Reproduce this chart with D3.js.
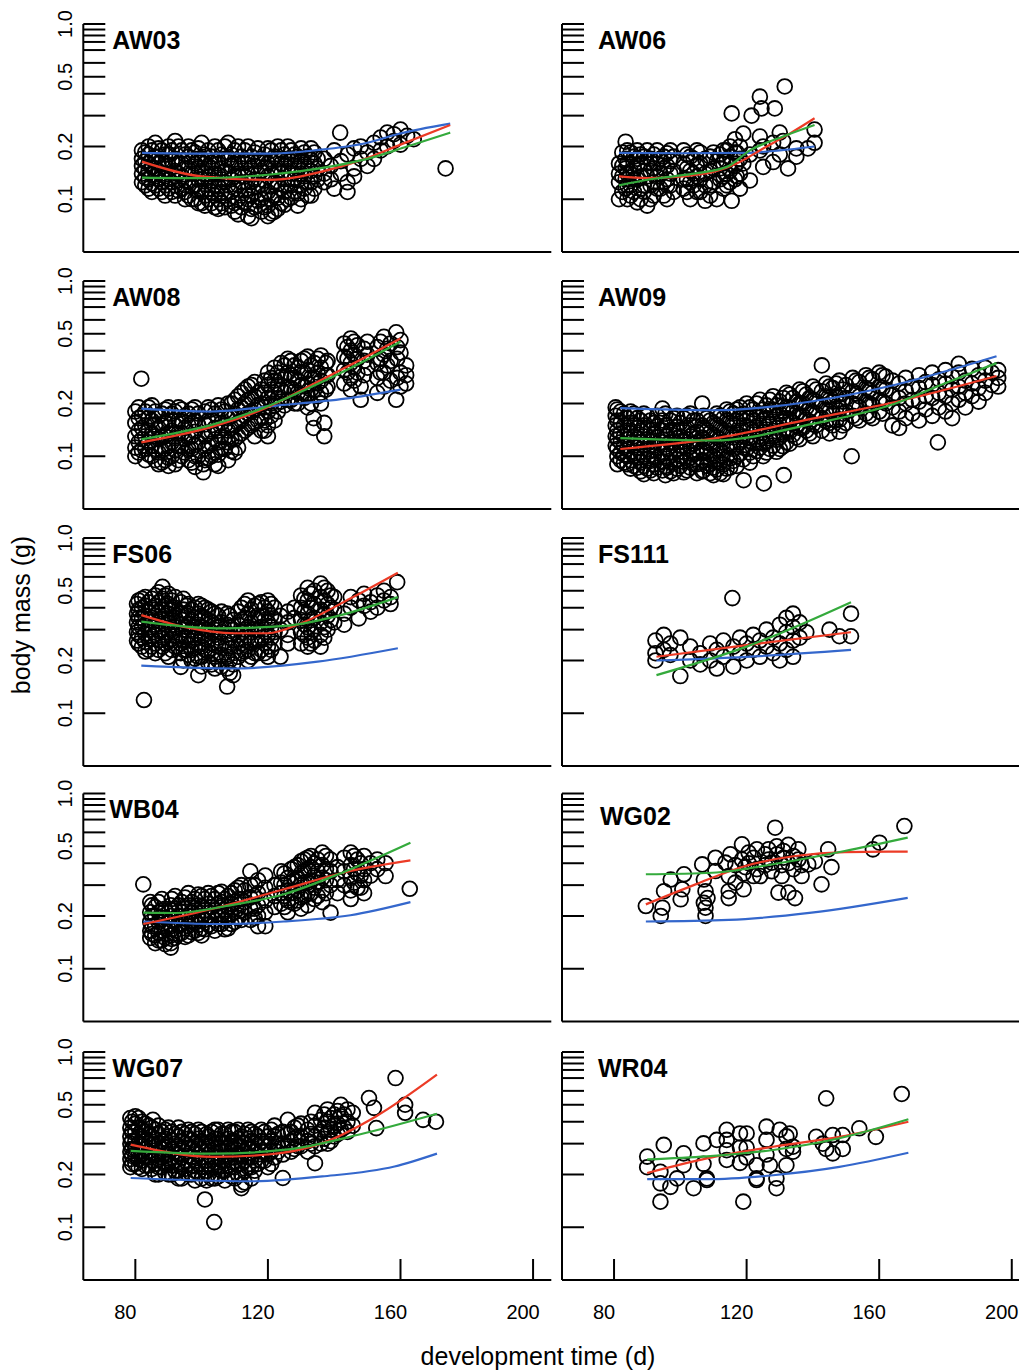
<!DOCTYPE html>
<html>
<head>
<meta charset="utf-8">
<script src="https://cdn.jsdelivr.net/npm/d3@7"></script>
<style>
  body { margin: 0; background: #fff; }
  svg { display: block; font-family: "Liberation Sans", Arial, sans-serif; }
</style>
</head>
<body>
<svg id="chart" width="1019" height="1372"></svg>
<script>
// points are grouped by day: [day, [mass, mass, ...]]
const aw03Pts = [
  [82,[0.19,0.17,0.155,0.14,0.125]],[84,[0.2,0.18,0.16,0.145,0.13,0.115]],[86,[0.21,0.175,0.15,0.135,0.12]],
  [88,[0.19,0.165,0.14,0.125,0.11]],[90,[0.2,0.18,0.155,0.13,0.115]],[92,[0.215,0.17,0.145,0.12,0.105]],
  [94,[0.19,0.16,0.135,0.115]],[96,[0.2,0.175,0.15,0.125,0.105]],[98,[0.185,0.16,0.14,0.12,0.1]],
  [100,[0.21,0.17,0.145,0.13,0.11,0.095]],[102,[0.19,0.155,0.135,0.115,0.1]],[104,[0.2,0.165,0.14,0.12,0.105,0.09]],
  [106,[0.18,0.15,0.13,0.11,0.095]],[108,[0.21,0.17,0.14,0.12,0.1]],[110,[0.19,0.16,0.135,0.115,0.095,0.085]],
  [112,[0.175,0.15,0.125,0.105,0.09]],[114,[0.2,0.165,0.14,0.115,0.1,0.08]],[116,[0.185,0.155,0.13,0.11,0.09]],
  [118,[0.17,0.145,0.12,0.1,0.085]],[120,[0.195,0.16,0.135,0.11,0.092,0.08]],[122,[0.175,0.15,0.125,0.105,0.085]],
  [124,[0.19,0.16,0.14,0.115,0.095]],[126,[0.2,0.17,0.145,0.12,0.1]],[128,[0.18,0.155,0.13,0.11]],
  [130,[0.195,0.165,0.14,0.12,0.1]],[132,[0.175,0.15,0.125,0.105]],[134,[0.185,0.16,0.135,0.115]],
  [83,[0.185,0.165,0.148,0.133,0.12]],[85,[0.19,0.17,0.152,0.138,0.123,0.11]],[87,[0.195,0.16,0.145,0.13,0.115]],
  [89,[0.18,0.16,0.135,0.12,0.105]],[91,[0.19,0.165,0.14,0.125,0.11]],[93,[0.2,0.16,0.14,0.128,0.112]],
  [95,[0.18,0.15,0.128,0.11,0.1]],[97,[0.19,0.165,0.14,0.118,0.1]],[99,[0.195,0.17,0.15,0.13,0.112,0.095]],
  [101,[0.18,0.16,0.14,0.122,0.105,0.092]],[103,[0.175,0.15,0.128,0.11,0.095]],[105,[0.19,0.16,0.138,0.118,0.1,0.088]],
  [107,[0.2,0.17,0.145,0.125,0.105,0.09]],[109,[0.18,0.155,0.13,0.11,0.092]],[111,[0.2,0.165,0.14,0.12,0.1,0.082]],
  [113,[0.19,0.16,0.135,0.112,0.095]],[115,[0.175,0.15,0.125,0.105,0.088,0.078]],[117,[0.195,0.165,0.14,0.118,0.098]],
  [119,[0.18,0.152,0.128,0.106,0.09]],[121,[0.19,0.165,0.14,0.118,0.1,0.083]],[123,[0.2,0.17,0.145,0.122,0.102,0.088]],
  [125,[0.18,0.155,0.13,0.11,0.093]],[127,[0.19,0.165,0.14,0.12,0.102]],[129,[0.175,0.15,0.128,0.108,0.092]],
  [131,[0.185,0.158,0.135,0.115]],[133,[0.195,0.168,0.145,0.125,0.105]],[135,[0.17,0.15,0.13]],
  [137,[0.17,0.14,0.125]],[139,[0.155,0.13]],[140,[0.19,0.115]],[141.8,[0.24]],[142,[0.165,0.14]],
  [144,[0.18,0.125,0.11]],[146,[0.195,0.15,0.135]],[148,[0.17,0.2]],[150,[0.185,0.155]],[152,[0.21,0.17]],
  [154,[0.225,0.19]],[156,[0.2,0.24]],[158,[0.215,0.235]],[160,[0.25,0.205]],[162,[0.23]],[164,[0.22]],[173.6,[0.15]]
];
const aw03Blue = [[82,0.184],[100,0.182],[120,0.182],[134,0.19],[150,0.21],[159,0.235],[175,0.27]];
const aw03Red = [[82,0.164],[100,0.135],[120,0.129],[140,0.15],[150,0.172],[160,0.205],[175,0.265]];
const aw03Green = [[82,0.133],[100,0.132],[120,0.138],[140,0.155],[150,0.17],[162,0.2],[175,0.24]];

const aw06Pts = [
  [81.5,[0.1,0.14,0.16,0.125]],[83.5,[0.213,0.17,0.15,0.13,0.115]],[85,[0.185,0.14,0.105,0.12]],
  [87,[0.19,0.155,0.13,0.096,0.17]],[89,[0.175,0.145,0.12,0.11]],[90,[0.092,0.19,0.16,0.135]],
  [92,[0.18,0.15,0.125,0.105]],[94,[0.17,0.14,0.115]],[96,[0.183,0.155,0.13,0.1,0.12]],[98,[0.175,0.145,0.11]],
  [82.5,[0.185,0.155,0.135,0.11]],[84,[0.19,0.16,0.14,0.12,0.1]],[86,[0.175,0.15,0.13,0.11]],
  [88,[0.18,0.16,0.135,0.115,0.1]],[91,[0.17,0.145,0.12,0.1]],[93,[0.19,0.16,0.135,0.115]],
  [95,[0.175,0.15,0.125,0.105]],[97,[0.19,0.165,0.14,0.12]],[102,[0.18,0.15,0.13,0.11]],[104,[0.17,0.14,0.12]],
  [106,[0.185,0.16,0.13,0.11]],[109,[0.175,0.145,0.12,0.105]],[112,[0.18,0.15,0.13]],[114,[0.19,0.165,0.14,0.12]],
  [117,[0.185,0.16,0.135]],
  [101,[0.19,0.16,0.13,0.115]],[103,[0.175,0.145,0.125,0.1]],[105,[0.19,0.155,0.135,0.11]],
  [107.5,[0.17,0.14,0.098,0.12]],[110,[0.185,0.15,0.125]],[111,[0.1,0.165]],[113,[0.19,0.16,0.135,0.115]],
  [115,[0.2,0.175,0.145,0.125]],[115.5,[0.309,0.098]],[116.5,[0.22,0.185,0.155,0.13]],[118,[0.2,0.17,0.14,0.115]],
  [119,[0.237,0.16]],[121,[0.128,0.18]],[121.5,[0.3]],[124,[0.385,0.228,0.19]],[124.5,[0.33]],[125,[0.153,0.2]],
  [128,[0.163,0.21]],[128.5,[0.33]],[130,[0.24,0.18]],[131,[0.215]],[131.5,[0.44]],[132.5,[0.15]],
  [135,[0.195,0.175]],[138.5,[0.195]],[140.5,[0.25,0.21]]
];
const aw06Blue = [[81.5,0.184],[100,0.183],[120,0.184],[130,0.19],[140.5,0.2]];
const aw06Red = [[81.5,0.135],[90,0.132],[101,0.135],[111,0.145],[117,0.16],[125,0.195],[133,0.237],[140.5,0.29]];
const aw06Green = [[81.5,0.12],[91,0.13],[104,0.14],[114,0.153],[121,0.19],[131,0.228],[140.5,0.265]];

const aw08Pts = [
  [81.8,[0.277]],[81,[0.19,0.165,0.14,0.12,0.105]],[83,[0.18,0.15,0.13,0.11,0.095]],[85,[0.195,0.16,0.135,0.115,0.1]],
  [87,[0.17,0.145,0.125,0.105,0.09]],[89,[0.185,0.155,0.13,0.11,0.095]],[91,[0.175,0.14,0.12,0.1]],
  [93,[0.19,0.16,0.135,0.115,0.095]],[95,[0.17,0.145,0.125,0.105]],[97,[0.185,0.155,0.13,0.11,0.092]],
  [99,[0.175,0.15,0.12,0.1]],[100.5,[0.081,0.09]],[102,[0.19,0.16,0.135,0.115,0.098]],
  [104,[0.175,0.145,0.125,0.105,0.09]],[106,[0.185,0.155,0.13,0.11]],[108,[0.2,0.165,0.14,0.12,0.095]],
  [110,[0.21,0.175,0.15,0.125,0.105]],[112,[0.23,0.19,0.16,0.135]],[114,[0.25,0.21,0.175,0.145]],
  [116,[0.265,0.22,0.185,0.155,0.13]],[118,[0.24,0.2,0.165,0.14]],[120,[0.3,0.255,0.215,0.18,0.15,0.13]],
  [122,[0.32,0.27,0.23,0.195,0.16]],[124,[0.34,0.285,0.24,0.205]],[126,[0.36,0.3,0.25,0.21]],
  [128,[0.33,0.28,0.235,0.2]],[130,[0.35,0.3,0.255,0.22]],[132,[0.37,0.31,0.26,0.225,0.19]],
  [133.8,[0.145,0.165]],[134,[0.34,0.28,0.24]],[136,[0.376,0.32,0.27,0.23,0.2]],[137,[0.13,0.155]],
  [138,[0.35,0.29,0.25]],[143,[0.44,0.37,0.31,0.26]],[145,[0.47,0.4,0.34,0.28,0.24]],[147,[0.43,0.36,0.3]],
  [148,[0.21,0.25]],[150,[0.45,0.38,0.32]],[153,[0.42,0.34,0.28,0.23]],[155,[0.48,0.38,0.3,0.25]],
  [157,[0.44,0.35,0.27]],[158.7,[0.51,0.21]],[160,[0.46,0.39,0.3,0.25]],[161.7,[0.33,0.29,0.26]],
  [80,[0.18,0.155,0.13,0.112,0.1]],[82,[0.17,0.145,0.125,0.108]],[84,[0.19,0.165,0.14,0.12,0.102]],
  [86,[0.18,0.152,0.13,0.11,0.095]],[88,[0.175,0.15,0.128,0.108,0.092]],[90,[0.19,0.16,0.135,0.115,0.098,0.088]],
  [92,[0.18,0.15,0.127,0.108,0.09]],[94,[0.185,0.158,0.135,0.115,0.1]],[96,[0.175,0.15,0.128,0.11,0.095]],
  [98,[0.19,0.16,0.138,0.116,0.1,0.087]],[101,[0.18,0.152,0.13,0.11,0.095]],[103,[0.185,0.16,0.138,0.118,0.1]],
  [105,[0.195,0.165,0.14,0.12,0.102,0.088]],[107,[0.18,0.15,0.128,0.11]],[109,[0.2,0.17,0.145,0.125,0.107]],
  [111,[0.22,0.185,0.155,0.13,0.112]],[113,[0.24,0.2,0.17,0.14]],[115,[0.255,0.215,0.18,0.15]],[117,[0.23,0.195,0.16]],
  [119,[0.27,0.23,0.19,0.16,0.14]],[121,[0.28,0.24,0.2,0.17]],[123,[0.3,0.255,0.215,0.18]],[125,[0.33,0.28,0.23,0.195]],
  [127,[0.35,0.29,0.245,0.21]],[129,[0.32,0.27,0.23,0.2]],[131,[0.36,0.3,0.25,0.215]],[133,[0.33,0.28,0.24,0.2]],
  [135,[0.36,0.3,0.26,0.22]],[137.5,[0.34,0.29,0.24]],[144,[0.42,0.36,0.3]],[146,[0.45,0.38,0.32,0.27]],
  [149,[0.41,0.35,0.29]],[154,[0.45,0.36,0.3]],[156,[0.41,0.33]],[159,[0.42,0.36,0.28]]
];
const aw08Blue = [[81.8,0.187],[103,0.18],[123.2,0.195],[143.3,0.213],[160,0.24]];
const aw08Red = [[81.8,0.12],[103,0.147],[119,0.187],[133,0.254],[148.5,0.36],[160,0.47]];
const aw08Green = [[81.8,0.125],[103,0.151],[119,0.19],[133,0.248],[148.5,0.345],[160,0.45]];

const aw09Pts = [
  [80.5,[0.19,0.17,0.15,0.13,0.115]],[82,[0.18,0.155,0.135,0.12,0.105,0.095]],[84,[0.165,0.14,0.125,0.11,0.1,0.09]],
  [86,[0.175,0.15,0.13,0.115,0.1,0.088]],[88,[0.16,0.14,0.12,0.105,0.092,0.082]],[90,[0.17,0.145,0.125,0.11,0.097,0.085]],
  [92,[0.155,0.135,0.115,0.1,0.09,0.08]],[94.6,[0.187,0.16,0.14,0.12,0.105,0.093,0.083]],[96,[0.15,0.13,0.11,0.097,0.086]],
  [98,[0.165,0.14,0.12,0.105,0.092,0.08]],[100,[0.155,0.13,0.115,0.1,0.088]],[102,[0.17,0.145,0.125,0.11,0.095,0.083]],
  [104,[0.16,0.135,0.118,0.102,0.09]],[106.6,[0.2,0.15,0.128,0.11,0.095,0.082]],[108,[0.165,0.14,0.12,0.105,0.088]],
  [110,[0.155,0.132,0.115,0.1,0.086,0.078]],[112,[0.17,0.145,0.125,0.108,0.092,0.08]],[114,[0.185,0.16,0.135,0.115,0.098,0.085]],
  [116,[0.175,0.15,0.128,0.11,0.094]],[118,[0.19,0.165,0.14,0.12,0.103]],[119.1,[0.073]],[120,[0.2,0.17,0.148,0.128,0.11]],
  [122,[0.185,0.16,0.138,0.118,0.1]],[124,[0.21,0.175,0.15,0.13,0.112]],[125.2,[0.07]],[126,[0.195,0.165,0.142,0.122,0.105]],
  [128,[0.22,0.185,0.158,0.135,0.115]],[130,[0.205,0.175,0.15,0.128,0.11]],[131.2,[0.078]],[132,[0.23,0.19,0.165,0.14,0.12]],
  [134,[0.215,0.18,0.155,0.133]],[136,[0.24,0.2,0.17,0.145,0.125]],[138,[0.225,0.19,0.162,0.14]],
  [140,[0.25,0.21,0.178,0.152,0.13]],[142.7,[0.33,0.235,0.195,0.165,0.14]],[144,[0.26,0.22,0.185,0.158]],
  [146,[0.245,0.205,0.175,0.15]],[148,[0.27,0.225,0.19,0.162,0.138]],[150,[0.255,0.215,0.18,0.155]],[151.7,[0.1]],
  [152,[0.28,0.235,0.2,0.17]],[154,[0.265,0.22,0.19,0.16]],[156,[0.29,0.245,0.205,0.175]],[158,[0.275,0.23,0.195,0.165]],
  [160,[0.3,0.25,0.21,0.18]],[162,[0.285,0.24,0.2]],[164,[0.27,0.225,0.19,0.15]],[166,[0.26,0.215,0.18,0.145]],
  [168,[0.28,0.235,0.2,0.165]],[170,[0.25,0.21,0.175]],[172,[0.29,0.245,0.205,0.16]],[174,[0.265,0.22,0.185]],
  [176,[0.3,0.255,0.215,0.17]],[177.7,[0.12]],[178,[0.275,0.23,0.19]],[180,[0.31,0.26,0.22,0.18]],
  [182,[0.285,0.24,0.2,0.165]],[184,[0.337,0.3,0.25,0.21]],[186,[0.27,0.23,0.19]],[188,[0.315,0.26,0.22]],
  [190,[0.29,0.245,0.205]],[192,[0.32,0.27,0.23]],[194,[0.3,0.255]],[195.9,[0.31,0.28,0.25]],
  [81,[0.185,0.16,0.14,0.125,0.11,0.1,0.09]],[83,[0.175,0.15,0.13,0.115,0.102,0.092]],[85,[0.18,0.155,0.135,0.12,0.106,0.095,0.085]],
  [87,[0.165,0.145,0.127,0.112,0.098,0.086]],[89,[0.175,0.15,0.13,0.115,0.1,0.088,0.079]],[91,[0.16,0.14,0.122,0.107,0.094,0.083]],
  [93,[0.17,0.148,0.128,0.112,0.098,0.086]],[95.5,[0.175,0.15,0.13,0.113,0.1,0.088,0.078]],[97,[0.16,0.14,0.12,0.105,0.092,0.082]],
  [99,[0.17,0.147,0.127,0.11,0.096,0.085]],[101,[0.165,0.14,0.122,0.106,0.093,0.081]],[103,[0.175,0.15,0.13,0.113,0.098,0.086]],
  [105,[0.16,0.138,0.12,0.104,0.09,0.08]],[107,[0.17,0.145,0.125,0.108,0.094,0.083]],[109,[0.16,0.136,0.118,0.102,0.09,0.08]],
  [111,[0.175,0.15,0.128,0.11,0.096,0.084]],[113,[0.165,0.14,0.12,0.104,0.09,0.079]],[115,[0.18,0.155,0.132,0.113,0.097,0.086]],
  [117,[0.185,0.16,0.136,0.117,0.1,0.088]],[119,[0.175,0.15,0.13,0.112,0.096]],[121,[0.19,0.165,0.142,0.122,0.105,0.092]],
  [123,[0.2,0.17,0.146,0.125,0.107]],[125,[0.185,0.16,0.137,0.118,0.1]],[127,[0.21,0.178,0.152,0.13,0.11]],
  [129,[0.195,0.168,0.145,0.124,0.106]],[131,[0.215,0.182,0.157,0.134,0.114]],[133,[0.225,0.19,0.162,0.138,0.118]],
  [135,[0.205,0.175,0.15,0.128]],[137,[0.235,0.2,0.17,0.145]],[139,[0.215,0.185,0.158,0.135]],[141,[0.24,0.205,0.175,0.15]],
  [145,[0.25,0.21,0.18,0.155,0.135]],[147,[0.26,0.22,0.187,0.16]],[149,[0.24,0.205,0.175,0.15]],[153,[0.27,0.228,0.195,0.165]],
  [157,[0.28,0.238,0.2,0.17]],[161,[0.29,0.245,0.205,0.175]]
];
const aw09Blue = [[81.9,0.188],[109.9,0.183],[139.9,0.206],[164.9,0.256],[195.4,0.372]];
const aw09Red = [[81.9,0.11],[109.9,0.126],[139.9,0.164],[164.9,0.204],[195.4,0.287]];
const aw09Green = [[81.9,0.127],[109.9,0.123],[139.9,0.153],[164.9,0.2],[179.7,0.26],[195.4,0.34]];

const fs06Pts = [
  [82.6,[0.119]],[80.5,[0.42,0.37,0.33,0.29,0.26]],[82,[0.45,0.4,0.35,0.31,0.27,0.24]],[84,[0.43,0.38,0.34,0.3,0.265,0.23]],
  [86,[0.47,0.41,0.36,0.32,0.28,0.25,0.22]],[88.2,[0.527,0.45,0.39,0.345,0.3,0.27,0.24]],[90,[0.48,0.42,0.37,0.33,0.29,0.255,0.21]],
  [92,[0.46,0.4,0.35,0.31,0.275,0.24]],[93.7,[0.184,0.43,0.37,0.32,0.28,0.25,0.22]],[95.5,[0.41,0.36,0.31,0.27,0.23]],
  [97,[0.39,0.34,0.3,0.26,0.23,0.2]],[99,[0.165,0.42,0.37,0.32,0.28,0.245,0.21]],[101,[0.4,0.35,0.3,0.265,0.23]],
  [103,[0.38,0.33,0.29,0.25,0.22,0.19]],[105,[0.36,0.31,0.27,0.24,0.2]],[107.7,[0.142,0.37,0.32,0.28,0.245,0.21,0.18]],
  [109.5,[0.34,0.3,0.26,0.22,0.19,0.165]],[112,[0.4,0.34,0.29,0.25,0.22]],[114,[0.44,0.37,0.31,0.27,0.23,0.2]],
  [116,[0.41,0.35,0.3,0.26,0.22]],[118,[0.43,0.36,0.31,0.27,0.23]],[120,[0.44,0.38,0.33,0.28,0.24,0.21]],
  [122,[0.4,0.34,0.29,0.25]],[123.8,[0.21,0.36,0.3]],[126,[0.38,0.33,0.28,0.25]],[128,[0.4,0.35]],
  [130,[0.47,0.4,0.34,0.29,0.25]],[132,[0.52,0.44,0.37,0.31,0.27,0.24]],[134,[0.5,0.42,0.35,0.3,0.26]],
  [135.9,[0.55,0.46,0.39,0.33,0.28,0.24]],[138,[0.5,0.42,0.36,0.3]],[140,[0.46,0.39,0.33]],[143,[0.37,0.32]],
  [145,[0.46,0.4]],[147.4,[0.348,0.44]],[149,[0.48,0.41]],[151,[0.43,0.38]],[153,[0.47,0.4]],[155,[0.44,0.5]],
  [157,[0.42,0.46]],[159,[0.56]],
  [81,[0.44,0.39,0.35,0.31,0.28,0.25]],[83,[0.46,0.41,0.36,0.32,0.285,0.255,0.225]],[85,[0.45,0.4,0.35,0.31,0.275,0.24]],
  [87,[0.49,0.43,0.38,0.335,0.295,0.26,0.23]],[89,[0.47,0.41,0.36,0.32,0.28,0.25,0.22]],[91,[0.44,0.39,0.34,0.3,0.265,0.23]],
  [94.5,[0.45,0.39,0.34,0.3,0.26,0.23,0.2]],[96,[0.42,0.37,0.32,0.28,0.245,0.215]],[98,[0.4,0.35,0.31,0.27,0.235,0.205]],
  [100,[0.41,0.36,0.31,0.275,0.24,0.21,0.185]],[102,[0.39,0.34,0.3,0.26,0.225,0.195]],[104,[0.37,0.32,0.28,0.245,0.21,0.18]],
  [106,[0.38,0.33,0.29,0.25,0.215,0.185]],[108.5,[0.36,0.31,0.27,0.235,0.2,0.17]],[111,[0.38,0.32,0.28,0.24,0.21]],
  [113,[0.42,0.35,0.3,0.26,0.225]],[115,[0.39,0.33,0.29,0.25,0.21]],[117,[0.42,0.36,0.3,0.26,0.22]],
  [119,[0.4,0.34,0.29,0.25,0.22]],[121,[0.42,0.36,0.31,0.27,0.23]],[131,[0.45,0.38,0.32,0.28]],
  [133,[0.48,0.4,0.34,0.29,0.25]],[137,[0.52,0.44,0.37,0.31,0.27]],[139,[0.47,0.4,0.34]]
];
const fs06Blue = [[81.8,0.187],[110,0.18],[135,0.197],[159.2,0.235]];
const fs06Red = [[81.8,0.363],[94.7,0.311],[110,0.286],[120,0.286],[130,0.326],[145,0.453],[159.2,0.634]];
const fs06Green = [[81.8,0.333],[105,0.305],[125,0.315],[140,0.355],[159.2,0.46]];

const fs111Pts = [
  [92.5,[0.2,0.26,0.22]],[95,[0.23,0.28]],[97,[0.25,0.215]],[100,[0.163,0.27]],[103,[0.24,0.2]],[106,[0.22,0.19]],
  [109,[0.25,0.2]],[111,[0.23,0.18]],[113,[0.21,0.26]],[115.7,[0.454]],[116,[0.24,0.185]],[118,[0.22,0.27]],
  [120,[0.25,0.2]],[122,[0.23,0.28]],[124,[0.26,0.21]],[126,[0.3,0.24]],[128,[0.22,0.27]],[130,[0.32,0.25,0.2]],
  [132,[0.35,0.29,0.23]],[134,[0.37,0.31,0.26,0.21]],[136,[0.33,0.27]],[138,[0.29]],[145,[0.3]],[148,[0.275]],
  [151.5,[0.37,0.275]]
];
const fs111Blue = [[92.8,0.2],[120,0.21],[151.5,0.23]];
const fs111Red = [[92.8,0.21],[120,0.245],[151.5,0.29]];
const fs111Green = [[92.8,0.165],[120,0.24],[151.5,0.43]];

const wb04Pts = [
  [82.4,[0.303]],[84.5,[0.24,0.21,0.185,0.165,0.15]],[86,[0.225,0.2,0.175,0.155,0.14]],[88,[0.25,0.215,0.19,0.165,0.145]],
  [90.7,[0.132,0.14,0.23,0.2,0.175,0.155]],[92,[0.26,0.22,0.19,0.165,0.15]],[94,[0.24,0.21,0.18,0.16]],
  [96,[0.27,0.23,0.2,0.175,0.155]],[98,[0.25,0.215,0.185,0.165]],[100,[0.26,0.225,0.195,0.17,0.155]],
  [102,[0.27,0.235,0.2,0.178]],[104,[0.25,0.215,0.19,0.165]],[106,[0.275,0.24,0.205,0.18]],[108,[0.26,0.225,0.195,0.17]],
  [110,[0.28,0.24,0.21,0.185]],[112,[0.3,0.25,0.215,0.19]],[114.7,[0.36,0.3,0.255,0.22,0.19]],
  [117,[0.32,0.27,0.23,0.2,0.175]],[119.2,[0.34,0.29,0.245,0.21,0.175]],[122,[0.3,0.26,0.225]],
  [124,[0.36,0.31,0.27,0.235]],[126,[0.33,0.28,0.245,0.21]],[128,[0.38,0.32,0.27,0.235]],[130,[0.41,0.35,0.3,0.255,0.22]],
  [132,[0.43,0.37,0.31,0.27,0.23]],[134,[0.4,0.34,0.29,0.25]],[136.4,[0.46,0.39,0.33,0.28,0.24]],
  [138.9,[0.209,0.42,0.36,0.3]],[141,[0.38,0.32,0.27]],[143,[0.43,0.36,0.3]],[145,[0.46,0.39,0.33,0.28,0.25]],
  [147,[0.42,0.35,0.29]],[149,[0.44,0.37,0.32,0.27]],[151,[0.4,0.34]],[153,[0.42,0.37]],[155.5,[0.338,0.4]],[162.8,[0.286]],
  [85,[0.23,0.2,0.175,0.158]],[87,[0.24,0.21,0.185,0.16,0.145]],[89,[0.22,0.195,0.17,0.15,0.138]],
  [91,[0.25,0.215,0.19,0.168,0.148]],[93,[0.23,0.2,0.178,0.158]],[95,[0.255,0.22,0.195,0.17,0.152]],
  [97,[0.24,0.21,0.185,0.162]],[99,[0.265,0.23,0.2,0.178,0.16]],[101,[0.25,0.215,0.19,0.168]],
  [103,[0.26,0.225,0.198,0.175]],[105,[0.27,0.235,0.205,0.18]],[107,[0.25,0.218,0.19,0.168]],
  [109,[0.27,0.235,0.205,0.18]],[111,[0.29,0.25,0.22,0.195]],[113,[0.28,0.24,0.21]],[116,[0.3,0.26,0.22,0.195]],
  [125,[0.35,0.3,0.26,0.225]],[127,[0.37,0.31,0.27,0.24]],[129,[0.39,0.33,0.28,0.245]],[131,[0.42,0.36,0.31,0.26]],
  [133,[0.44,0.38,0.32,0.27]],[135,[0.42,0.36,0.31,0.26]],[137.5,[0.44,0.37,0.32,0.27]],[146,[0.44,0.37,0.31]],
  [148,[0.4,0.34,0.29]]
];
const wb04Blue = [[82.4,0.186],[104.7,0.18],[124.8,0.186],[144.9,0.202],[163,0.24]];
const wb04Red = [[82.4,0.18],[104.7,0.223],[124.8,0.284],[144.9,0.361],[163,0.415]];
const wb04Green = [[82.4,0.209],[92.3,0.208],[107.4,0.228],[124.8,0.266],[139.9,0.338],[163,0.524]];

const wg02Pts = [
  [89.6,[0.228]],[94.1,[0.2]],[94.6,[0.223]],[95.1,[0.277]],[97.1,[0.323]],[100.1,[0.249]],[100.6,[0.284]],[101.1,[0.346]],
  [106.6,[0.394]],[107.1,[0.323,0.238]],[107.6,[0.277,0.223,0.2]],[108.2,[0.253]],[110.6,[0.43,0.361]],
  [113.6,[0.403]],[114.6,[0.338,0.277,0.253]],[115.1,[0.45]],[116.6,[0.31,0.39]],[118.6,[0.513,0.42]],[119.1,[0.284,0.35]],
  [119.6,[0.38]],[120.6,[0.46,0.4]],[122.1,[0.338,0.43]],[123.1,[0.48,0.37]],[124.1,[0.338]],[125.6,[0.45,0.39]],
  [126.6,[0.48,0.42]],[127.6,[0.403,0.36]],[128.6,[0.638]],[129.1,[0.5,0.45]],[129.6,[0.272]],[130.6,[0.338,0.39]],
  [131.1,[0.43,0.47]],[132.6,[0.51,0.272,0.4]],[134.1,[0.37,0.44]],[134.6,[0.253]],[135.6,[0.48,0.42]],
  [136.6,[0.338,0.39]],[138.6,[0.394]],[140.6,[0.41]],[142.6,[0.303]],[144.6,[0.48]],[145.6,[0.38]],
  [158.1,[0.48]],[160.1,[0.524]],[167.6,[0.652]]
];
const wg02Blue = [[89.6,0.186],[114.6,0.19],[139.6,0.209],[168.6,0.254]];
const wg02Red = [[89.6,0.233],[104.6,0.303],[119.6,0.386],[134.6,0.44],[149.6,0.463],[168.6,0.466]];
const wg02Green = [[89.6,0.346],[109.6,0.353],[129.6,0.4],[149.6,0.47],[168.6,0.56]];

const wg07Pts = [
  [78.5,[0.42,0.37,0.33,0.3,0.27,0.245,0.22]],[80,[0.43,0.39,0.35,0.31,0.28,0.255,0.23]],
  [82,[0.4,0.36,0.32,0.29,0.26,0.24,0.215]],[84,[0.38,0.34,0.3,0.27,0.25,0.225]],[85.3,[0.41]],
  [86,[0.36,0.32,0.29,0.26,0.23,0.2]],[88,[0.35,0.31,0.28,0.25,0.22]],[90,[0.37,0.33,0.29,0.26,0.23,0.2]],
  [92,[0.34,0.3,0.27,0.24,0.21]],[94,[0.35,0.31,0.28,0.25,0.22,0.19]],[96,[0.36,0.32,0.285,0.255,0.23,0.2]],
  [98,[0.34,0.3,0.27,0.24,0.21,0.185]],[100,[0.35,0.31,0.28,0.25,0.22,0.19]],[101,[0.144]],
  [102,[0.33,0.29,0.26,0.23,0.2]],[103.8,[0.107]],[104,[0.36,0.32,0.28,0.25,0.22,0.19]],[106,[0.34,0.3,0.27,0.24,0.21]],
  [108,[0.36,0.32,0.285,0.255,0.225,0.2]],[110,[0.35,0.31,0.28,0.25,0.22,0.19]],[112,[0.167,0.175,0.33,0.29,0.26,0.23,0.2]],
  [114,[0.36,0.32,0.28,0.25,0.22]],[116,[0.34,0.3,0.27,0.24,0.21]],[118,[0.36,0.31,0.27,0.24]],[120,[0.33,0.29,0.26,0.22]],
  [122,[0.38,0.33,0.29,0.25]],[124.5,[0.191,0.35,0.3,0.26]],[126,[0.41,0.34,0.29]],[128,[0.37,0.32,0.28]],
  [130,[0.39,0.33,0.29]],[132,[0.36,0.31,0.27]],[134.2,[0.232,0.45,0.38,0.33,0.29]],[136,[0.41,0.35,0.3]],
  [138,[0.47,0.4,0.34,0.3]],[140,[0.44,0.38,0.33]],[142,[0.5,0.43,0.36]],[144,[0.47,0.4,0.35]],[145.6,[0.45,0.38]],
  [150.5,[0.546]],[152,[0.48]],[152.7,[0.368]],[158.5,[0.71]],[161.4,[0.5,0.45]],[166.8,[0.41]],[170.7,[0.4]],
  [79,[0.4,0.35,0.31,0.28,0.255,0.23]],[81,[0.42,0.37,0.33,0.3,0.27,0.245,0.22]],[83,[0.39,0.35,0.31,0.28,0.25,0.225]],
  [85,[0.37,0.33,0.295,0.265,0.24,0.215]],[87,[0.38,0.34,0.3,0.27,0.245,0.22,0.2]],[89,[0.36,0.32,0.285,0.255,0.23,0.205]],
  [91,[0.35,0.315,0.28,0.25,0.225,0.2]],[93,[0.37,0.33,0.29,0.26,0.235,0.21,0.19]],[95,[0.34,0.3,0.27,0.24,0.215]],
  [97,[0.35,0.315,0.28,0.25,0.225,0.2]],[99,[0.36,0.32,0.29,0.26,0.23,0.205]],[101.5,[0.34,0.3,0.27,0.24,0.21,0.185]],
  [103,[0.35,0.31,0.275,0.245,0.215,0.19]],[105,[0.36,0.32,0.285,0.25,0.22,0.195]],[107,[0.34,0.3,0.27,0.24,0.21,0.185]],
  [109,[0.35,0.31,0.28,0.25,0.22,0.195]],[111,[0.36,0.32,0.29,0.26,0.23,0.2]],[113,[0.34,0.3,0.27,0.24,0.21,0.18]],
  [115,[0.35,0.31,0.28,0.25,0.22,0.19]],[117,[0.33,0.29,0.26,0.23]],[119,[0.35,0.3,0.27,0.24]],[121,[0.36,0.31,0.27,0.23]],
  [123,[0.34,0.3,0.27]],[127,[0.35,0.31,0.27]],[129,[0.38,0.33,0.29]],[133,[0.4,0.34,0.3]],[137,[0.44,0.37,0.32]],
  [139,[0.42,0.36,0.31]],[141,[0.46,0.39,0.34]],[143,[0.44,0.37]]
];
const wg07Blue = [[78.6,0.191],[114.7,0.183],[136.4,0.195],[158.2,0.222],[171,0.263]];
const wg07Red = [[78.6,0.296],[103.8,0.252],[120.1,0.26],[136.4,0.302],[152.7,0.43],[171,0.742]];
const wg07Green = [[78.6,0.273],[103.8,0.263],[125.5,0.277],[147.3,0.337],[171,0.444]];

const wr04Pts = [
  [90,[0.253,0.22]],[95,[0.295]],[94,[0.207,0.14,0.178]],[97,[0.17]],[99,[0.19]],[101,[0.264,0.226]],[104,[0.167]],
  [107,[0.301,0.23]],[108,[0.19,0.186]],[111,[0.315]],[114,[0.36,0.315,0.242,0.275]],[118,[0.343,0.285,0.233]],
  [119,[0.14]],[120,[0.343,0.285,0.25]],[123,[0.19,0.226,0.186]],[126,[0.375,0.315,0.26]],[127,[0.226]],
  [129,[0.19,0.167]],[130,[0.36]],[132,[0.33,0.28,0.226]],[133,[0.343]],[134,[0.288,0.27]],[141,[0.328]],
  [143,[0.3]],[144,[0.544,0.28]],[146,[0.336,0.264]],[149,[0.28,0.336]],[154,[0.367]],[159,[0.328]],[166.8,[0.576]]
];
const wr04Blue = [[90,0.188],[108,0.188],[128,0.198],[148,0.221],[168.8,0.266]];
const wr04Red = [[90,0.204],[108,0.247],[128,0.288],[148,0.328],[168.8,0.4]];
const wr04Green = [[90,0.244],[108,0.254],[128,0.276],[148,0.322],[168.8,0.413]];

const panelNames = ["AW03","AW06","AW08","AW09","FS06","FS111","WB04","WG02","WG07","WR04"];
const panelPts = [aw03Pts, aw06Pts, aw08Pts, aw09Pts, fs06Pts, fs111Pts, wb04Pts, wg02Pts, wg07Pts, wr04Pts];
const panelBlue = [aw03Blue, aw06Blue, aw08Blue, aw09Blue, fs06Blue, fs111Blue, wb04Blue, wg02Blue, wg07Blue, wr04Blue];
const panelRed = [aw03Red, aw06Red, aw08Red, aw09Red, fs06Red, fs111Red, wb04Red, wg02Red, wg07Red, wr04Red];
const panelGreen = [aw03Green, aw06Green, aw08Green, aw09Green, fs06Green, fs111Green, wb04Green, wg02Green, wg07Green, wr04Green];

// tick positions (upper ticks are closer together than a plain 0.1 step)
const yTicks = [0.1, 0.2, 0.3, 0.4, 0.5, 0.6, 0.71, 0.79, 0.86, 0.93, 1.0];
const yLabels = [0.1, 0.2, 0.5, 1.0];
const xTicks = [80, 120, 160, 200];

// layout
const rowTop = [24, 281, 538, 793.5, 1052];
const colLeft = [83.3, 562];
const panelW = 468, panelH = 228;
const tickLen = 22;
const titleOffset = { WB04: [26, 24], WG02: [38, 31] };

const svg = d3.select("#chart");
const x = d3.scaleLinear().domain([64.3, 205.5]).range([0, panelW]);
const y = d3.scaleLog().domain([0.05, 1]).range([panelH, 0]);
const line = d3.line().x(d => x(d[0])).y(d => y(d[1])).curve(d3.curveMonotoneX);

panelNames.forEach((name, i) => {
  const row = Math.floor(i / 2), col = i % 2;
  const g = svg.append("g").attr("transform", `translate(${colLeft[col]},${rowTop[row]})`);

  // points
  const pts = panelPts[i].flatMap(([d, ms]) => ms.map(m => [d, m]));
  g.append("g").selectAll("circle")
    .data(pts)
    .join("circle")
    .attr("cx", d => x(d[0]))
    .attr("cy", d => y(d[1]))
    .attr("r", 7.4)
    .attr("fill", "none")
    .attr("stroke", "#000")
    .attr("stroke-width", 1.8);

  // fitted curves
  [[panelBlue[i], "#3467cc"], [panelRed[i], "#ec3b26"], [panelGreen[i], "#34aa3c"]].forEach(([c, col2]) => {
    g.append("path").attr("d", line(c)).attr("fill", "none").attr("stroke", col2).attr("stroke-width", 2.2);
  });

  // axes
  g.append("line").attr("x1", 0).attr("x2", 0).attr("y1", 0).attr("y2", panelH)
    .attr("stroke", "#000").attr("stroke-width", 2);
  g.append("line").attr("x1", 0).attr("x2", panelW).attr("y1", panelH).attr("y2", panelH)
    .attr("stroke", "#000").attr("stroke-width", 2);
  g.selectAll(".ytick").data(yTicks).join("line")
    .attr("x1", 0).attr("x2", tickLen)
    .attr("y1", d => y(d)).attr("y2", d => y(d))
    .attr("stroke", "#000").attr("stroke-width", 2);

  if (col === 0) {
    g.selectAll(".ylab").data(yLabels).join("text")
      .attr("transform", d => `translate(-11,${y(d)}) rotate(-90)`)
      .attr("text-anchor", "middle")
      .attr("font-size", 20)
      .text(d => d3.format(".1f")(d));
  }

  if (row === 4) {
    g.selectAll(".xtick").data(xTicks).join("line")
      .attr("x1", d => x(d)).attr("x2", d => x(d))
      .attr("y1", panelH).attr("y2", panelH - 21)
      .attr("stroke", "#000").attr("stroke-width", 2);
    g.selectAll(".xlab").data(xTicks).join("text")
      .attr("x", d => x(d) - 10).attr("y", panelH + 39)
      .attr("text-anchor", "middle")
      .attr("font-size", 20)
      .text(d => d);
  }

  const off = titleOffset[name] || (col === 0 ? [29, 25] : [36, 25]);
  g.append("text")
    .attr("x", off[0]).attr("y", off[1])
    .attr("font-size", 25).attr("font-weight", "bold")
    .text(name);
});

svg.append("text")
  .attr("transform", "translate(30,615) rotate(-90)")
  .attr("text-anchor", "middle")
  .attr("font-size", 25)
  .text("body mass (g)");

svg.append("text")
  .attr("x", 538).attr("y", 1365)
  .attr("text-anchor", "middle")
  .attr("font-size", 25)
  .text("development time (d)");
</script>
</body>
</html>
